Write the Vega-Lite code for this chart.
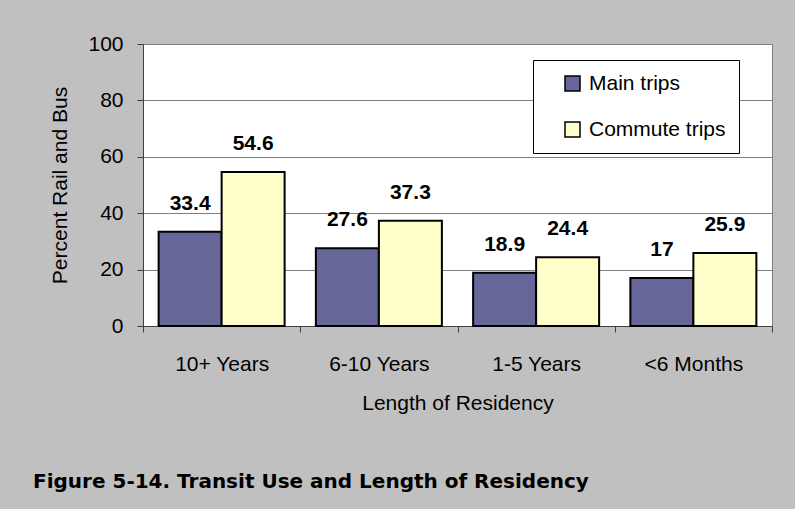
{
  "$schema": "https://vega.github.io/schema/vega-lite/v6.json",
  "width": 629,
  "height": 282,
  "autosize": {"type": "none"},
  "padding": {"left": 143, "top": 44, "right": 23, "bottom": 183},
  "background": "#c0c0c0",
  "title": {
    "text": "Figure 5-14. Transit Use and Length of Residency",
    "orient": "bottom",
    "anchor": "start",
    "frame": "group",
    "dx": -110,
    "offset": 59,
    "font": "DejaVu Sans",
    "fontSize": 20,
    "fontWeight": "bold",
    "color": "black"
  },
  "data": {
    "values": [
      {"residency": "10+ Years", "trip": "Main trips", "percent": 33.4},
      {"residency": "10+ Years", "trip": "Commute trips", "percent": 54.6},
      {"residency": "6-10 Years", "trip": "Main trips", "percent": 27.6},
      {"residency": "6-10 Years", "trip": "Commute trips", "percent": 37.3},
      {"residency": "1-5 Years", "trip": "Main trips", "percent": 18.9},
      {"residency": "1-5 Years", "trip": "Commute trips", "percent": 24.4},
      {"residency": "<6 Months", "trip": "Main trips", "percent": 17},
      {"residency": "<6 Months", "trip": "Commute trips", "percent": 25.9}
    ]
  },
  "config": {
    "view": {"fill": "white", "stroke": "#808080", "strokeWidth": 1}
  },
  "encoding": {
    "x": {
      "field": "residency",
      "type": "nominal",
      "sort": ["10+ Years", "6-10 Years", "1-5 Years", "<6 Months"],
      "scale": {"paddingInner": 0, "paddingOuter": 0},
      "title": "Length of Residency",
      "axis": {
        "tickBand": "extent",
        "labelAngle": 0,
        "labelFont": "Liberation Sans",
        "labelFontSize": 21,
        "labelColor": "black",
        "labelPadding": 21,
        "titleFont": "Liberation Sans",
        "titleFontSize": 21,
        "titleFontWeight": "normal",
        "titleColor": "black",
        "titlePadding": 18,
        "domainColor": "#404040",
        "tickColor": "#404040",
        "tickSize": 6,
        "grid": false
      }
    },
    "xOffset": {
      "field": "trip",
      "type": "nominal",
      "sort": ["Main trips", "Commute trips"],
      "scale": {"paddingInner": 0, "paddingOuter": 0.248}
    },
    "y": {
      "field": "percent",
      "type": "quantitative",
      "scale": {"domain": [0, 100], "nice": false},
      "title": "Percent Rail and Bus",
      "axis": {
        "values": [0, 20, 40, 60, 80, 100],
        "grid": true,
        "gridColor": "#808080",
        "domainColor": "#404040",
        "tickColor": "#404040",
        "tickSize": 6,
        "labelFont": "Liberation Sans",
        "labelFontSize": 21,
        "labelColor": "black",
        "labelPadding": 14,
        "titleFont": "Liberation Sans",
        "titleFontSize": 21,
        "titleFontWeight": "normal",
        "titleColor": "black",
        "titlePadding": 17
      }
    }
  },
  "layer": [
    {
      "mark": {"type": "bar", "stroke": "black", "strokeWidth": 2},
      "encoding": {
        "fill": {
          "field": "trip",
          "type": "nominal",
          "sort": ["Main trips", "Commute trips"],
          "scale": {"domain": ["Main trips", "Commute trips"], "range": ["#666699", "#ffffcc"]},
          "legend": {
            "title": null,
            "orient": "none",
            "legendX": 390,
            "legendY": 16,
            "fillColor": "white",
            "strokeColor": "black",
            "padding": 13,
            "symbolType": "square",
            "symbolSize": 225,
            "symbolOffset": 16,
            "symbolStrokeColor": "black",
            "symbolStrokeWidth": 1.5,
            "labelFont": "Liberation Sans",
            "labelFontSize": 21,
            "labelColor": "black",
            "labelOffset": 6,
            "rowPadding": 24
          }
        }
      }
    },
    {
      "mark": {
        "type": "text",
        "baseline": "bottom",
        "dy": -18,
        "font": "Liberation Sans",
        "fontSize": 21,
        "fontWeight": "bold",
        "color": "black"
      },
      "encoding": {
        "text": {"field": "percent", "type": "quantitative"}
      }
    }
  ]
}
